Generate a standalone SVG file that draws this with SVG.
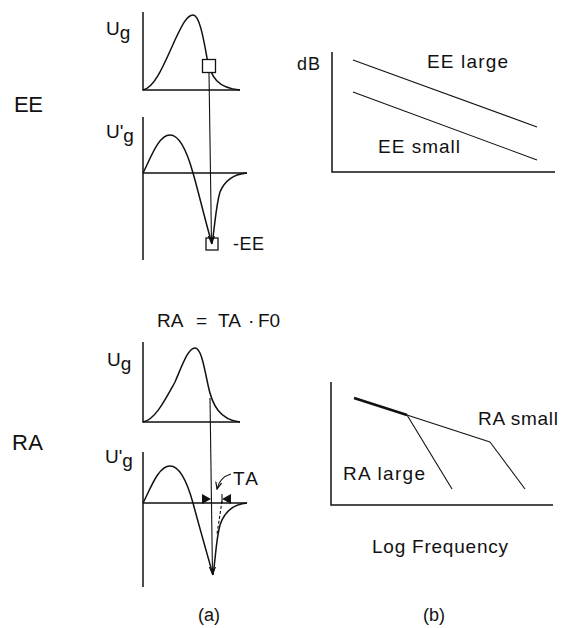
<svg xmlns="http://www.w3.org/2000/svg" width="563" height="628" viewBox="0 0 563 628">
<style>
text{font-family:"Liberation Sans",Arial,sans-serif;fill:#111;}
.lbl{font-size:19px;}
.sm{font-size:18px;}
.big{font-size:22px;}
.ax{stroke:#111;stroke-width:1.5;fill:none;}
.cv{stroke:#111;stroke-width:1.5;fill:none;}
.thin{stroke:#111;stroke-width:1.1;fill:none;}
</style>
<defs>
<marker id="ah" markerWidth="8" markerHeight="8" refX="7" refY="4" orient="auto" markerUnits="userSpaceOnUse">
<path d="M0,1 L7,4 L0,7" fill="none" stroke="#111" stroke-width="1.2"/>
</marker>
</defs>
<rect width="563" height="628" fill="#fff"/>

<g id="label-EE"><text class="big" x="14" y="112" textLength="29">EE</text></g>
<g id="label-RA"><text class="big" x="12" y="450" textLength="31">RA</text></g>

<g id="ee-ug">
<path class="ax" d="M143,12 V90 H240"/>
<path class="cv" d="M143,90 C155,88 165,62 175,40 C182,25 187,15 193,15 C199,15 203,35 207,58 C211,78 218,88 240,90"/>
<rect x="202.5" y="59.5" width="13" height="13" fill="#fff" stroke="#111" stroke-width="1.3"/>
<text class="lbl" x="106" y="35">U<tspan dy="4">g</tspan></text>
</g>

<g id="ee-dug">
<path class="ax" d="M143,117 V260 M143,173 H247"/>
<path class="cv" d="M143,173 C150,160 158,135 170,135 C180,135 188,155 193,173 C198,190 205,220 212,244 C215,225 216,205 220,192 C225,180 235,174 247,173"/>
<rect x="206" y="238" width="12" height="12" fill="none" stroke="#111" stroke-width="1.3"/>
<text class="lbl" x="106" y="138">U'<tspan dy="4">g</tspan></text>
<text class="sm" x="233" y="250" textLength="31">-EE</text>
</g>

<g id="ee-spectrum">
<path class="ax" d="M332,52 V172 H555"/>
<line class="thin" x1="353" y1="60" x2="537" y2="127"/>
<line class="thin" x1="353" y1="92" x2="537" y2="160"/>
<text class="sm" x="297" y="70" textLength="23">dB</text>
<text class="lbl" x="427" y="68" textLength="81">EE large</text>
<text class="lbl" x="378" y="153" textLength="82">EE small</text>
</g>

<g id="ra-formula">
<text class="lbl" x="157" y="327">RA</text>
<text class="lbl" x="196" y="327">=</text>
<text class="lbl" x="218" y="327">TA</text>
<text class="lbl" x="248" y="327">·</text>
<text class="lbl" x="258" y="327">F0</text>
</g>

<g id="ra-ug">
<path class="ax" d="M143,342 V422 H240"/>
<path class="cv" d="M143,422 C155,420 165,400 175,382 C182,366 188,348 195,348 C201,348 204,366 208,385 C212,405 220,420 240,422"/>
<text class="lbl" x="107" y="366">U<tspan dy="4">g</tspan></text>
</g>

<g id="ra-dug">
<path class="ax" d="M143,452 V587 M143,503 H247"/>
<path class="cv" d="M143,503 C150,490 158,466 170,466 C180,466 188,485 193,503 C198,522 206,550 213,575 C216,555 216,540 220,525 C225,510 235,504 247,503"/>
<text class="lbl" x="105" y="463">U'<tspan dy="4">g</tspan></text>
<path d="M202,494 L211,499 L202,504 Z" fill="#111"/>
<path d="M231,494 L222,499 L231,504 Z" fill="#111"/>
<line class="thin" x1="222" y1="494" x2="222" y2="503"/>
<line class="thin" x1="222" y1="501" x2="217" y2="534" stroke-dasharray="3,2"/>
<path class="thin" d="M231,474 Q220,477 217,489" marker-end="url(#ah)"/>
<text class="lbl" x="233" y="485" textLength="25">TA</text>
</g>

<g id="ra-spectrum">
<path class="ax" d="M331,382 V505 H553"/>
<line x1="354" y1="398" x2="407" y2="415" stroke="#111" stroke-width="2.6"/>
<line class="thin" x1="407" y1="415" x2="490" y2="442"/>
<line class="thin" x1="407" y1="415" x2="452" y2="489"/>
<line class="thin" x1="490" y1="442" x2="525" y2="489"/>
<text class="lbl" x="478" y="425" textLength="80">RA small</text>
<text class="lbl" x="343" y="480" textLength="82">RA large</text>
<text class="lbl" x="372" y="553" textLength="136">Log Frequency</text>
</g>

<g id="connectors">
<line class="thin" x1="209" y1="73" x2="211.5" y2="243" marker-end="url(#ah)"/>
<line class="thin" x1="210" y1="398" x2="212.5" y2="574" marker-end="url(#ah)"/>
</g>

<g id="captions">
<text class="sm" x="198" y="621">(a)</text>
<text class="sm" x="423" y="621">(b)</text>
</g>
</svg>
